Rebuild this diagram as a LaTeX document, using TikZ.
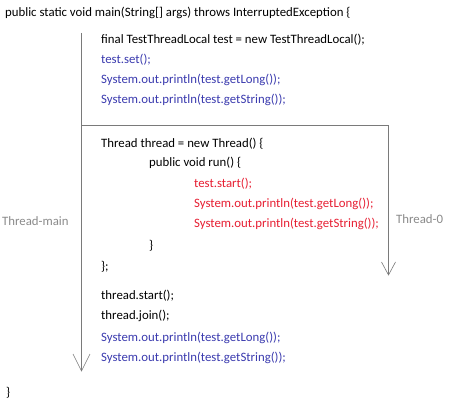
\documentclass[tikz,border=0pt]{standalone}
\usepackage{fontspec}
\setmainfont{Carlito}
\definecolor{codeblue}{HTML}{3A3AAE}
\definecolor{codered}{HTML}{E61E32}
\definecolor{labelgray}{HTML}{8A8A8A}
\definecolor{linegray}{HTML}{7A7A7A}
\begin{document}
\begin{tikzpicture}[x=1pt,y=-1pt,
  code/.style={anchor=base west,inner sep=0pt,font=\fontsize{12.8}{14}\selectfont},
  black code/.style={code,text=black},
  blue code/.style={code,text=codeblue},
  red code/.style={code,text=codered},
  thread label/.style={code,text=labelgray},
  flow/.style={draw=linegray,line width=0.8pt},
  vtip/.style={draw=linegray,line width=0.6pt}]
\useasboundingbox (0,0) rectangle (449,406);
% code text
\node[black code] (sig) at (5,16.7) {public static void main(String[] args) throws InterruptedException \{};
\node[black code] (l1) at (101,43.3) {final TestThreadLocal test = new TestThreadLocal();};
\node[blue code] (l2) at (101,64) {test.set();};
\node[blue code] (l3) at (101,84) {System.out.println(test.getLong());};
\node[blue code] (l4) at (101,104) {System.out.println(test.getString());};
\node[black code] (t1) at (101,147) {Thread thread = new Thread() \{};
\node[black code] (t2) at (149,167) {public void run() \{};
\node[red code] (r1) at (194,187) {test.start();};
\node[red code] (r2) at (194,207) {System.out.println(test.getLong());};
\node[red code] (r3) at (194,227) {System.out.println(test.getString());};
\node[black code] (t3) at (149,249) {\}};
\node[black code] (t4) at (101,270) {\};};
\node[black code] (m1) at (101,299) {thread.start();};
\node[black code] (m2) at (101,319) {thread.join();};
\node[blue code] (m3) at (101,341) {System.out.println(test.getLong());};
\node[blue code] (m4) at (101,361) {System.out.println(test.getString());};
\node[black code] (close) at (6,396) {\}};
% thread labels
\node[thread label] (tmain) at (2,225) {Thread-main};
\node[thread label] (t0) at (396,223) {Thread-0};
% flow lines
\coordinate (mainTop) at (81.5,33);
\coordinate (mainEnd) at (81.5,371);
\coordinate (fork) at (81.5,125);
\coordinate (corner) at (388.5,125);
\coordinate (t0End) at (388.5,275);
\draw[flow] (mainTop) -- (mainEnd);
\draw[flow] (fork) -- (corner) -- (t0End);
\draw[vtip] ([xshift=-8.5pt,yshift=17pt]mainEnd) -- (mainEnd) -- ([xshift=8.5pt,yshift=17pt]mainEnd);
\draw[vtip] ([xshift=-7pt,yshift=13pt]t0End) -- (t0End) -- ([xshift=7pt,yshift=13pt]t0End);
\end{tikzpicture}
\end{document}
